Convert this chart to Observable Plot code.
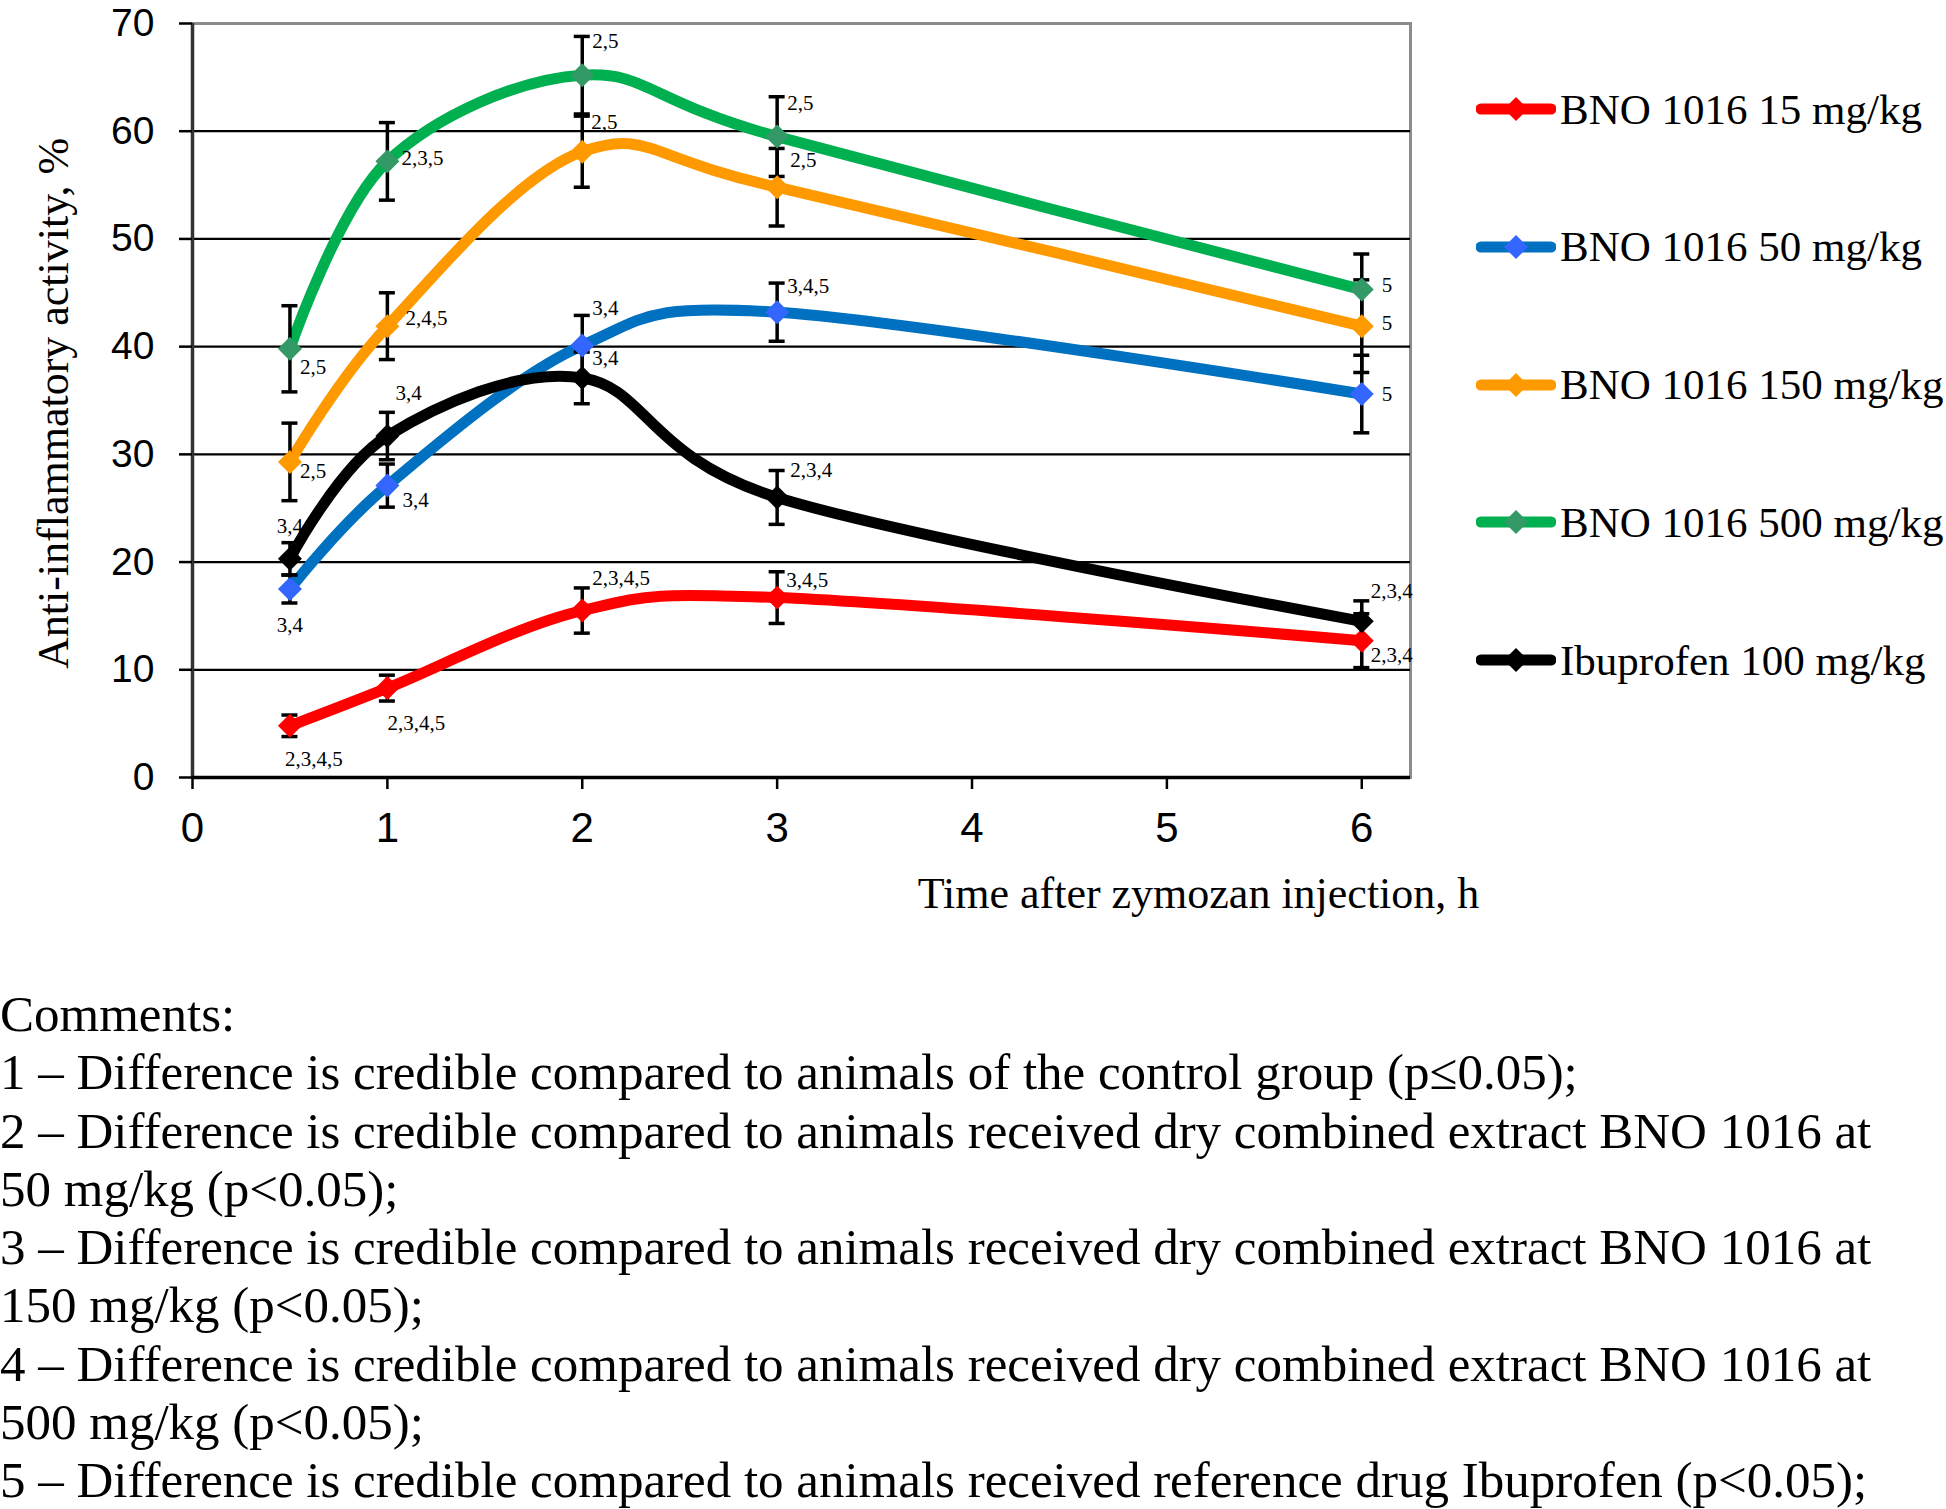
<!DOCTYPE html>
<html><head><meta charset="utf-8">
<script src="https://cdn.jsdelivr.net/npm/d3@7"></script>
<script src="https://cdn.jsdelivr.net/npm/@observablehq/plot@0.6"></script>
<style>
html,body{margin:0;padding:0;background:#fff;}
#wrap{position:relative;width:1946px;height:1509px;overflow:hidden;}
#chart{position:absolute;left:0;top:0;}
.leg{position:absolute;left:1476px;height:60px;display:flex;align-items:center;font-family:"Liberation Serif","Times New Roman",serif;font-size:43px;white-space:nowrap;color:#000;}
.leg svg{flex:none;margin-right:4px;}
#comments{position:absolute;left:0;top:985px;font-family:"Liberation Serif","Times New Roman",serif;font-size:51px;line-height:58.3px;white-space:nowrap;color:#000;}
</style></head><body>
<div id="wrap"><div id="chart"></div><div id="legend"></div><div id="comments"></div></div>
<script>
// ---- data ----
const times = [0.5, 1, 2, 3, 6];
const seriesNames = ["BNO 1016 15 mg/kg", "BNO 1016 50 mg/kg", "BNO 1016 150 mg/kg", "BNO 1016 500 mg/kg", "Ibuprofen 100 mg/kg"];
const mean15  = [4.8, 8.3, 15.5, 16.7, 12.7];
const err15   = [1.0, 1.2, 2.1, 2.4, 2.5];
const mean50  = [17.5, 27.1, 40.1, 43.2, 35.6];
const err50   = [1.3, 2.0, 2.8, 2.7, 3.6];
const mean150 = [29.3, 41.9, 58.1, 54.8, 41.9];
const err150  = [3.6, 3.1, 3.3, 3.6, 4.3];
const mean500 = [39.8, 57.2, 65.2, 59.5, 45.3];
const err500  = [4.0, 3.6, 3.6, 3.7, 3.3];
const meanIbu = [20.3, 31.7, 37.1, 26.0, 14.5];
const errIbu  = [1.5, 2.2, 2.4, 2.5, 1.9];
const sig15  = ["2,3,4,5", "2,3,4,5", "2,3,4,5", "3,4,5", "2,3,4"];
const sig50  = ["3,4", "3,4", "3,4", "3,4,5", "5"];
const sig150 = ["2,5", "2,4,5", "2,5", "2,5", "5"];
const sig500 = ["2,5", "2,3,5", "2,5", "2,5", "5"];
const sigIbu = ["3,4", "3,4", "3,4", "2,3,4", "2,3,4"];
const xTicks = [0, 1, 2, 3, 4, 5, 6];
const yTicks = [0, 10, 20, 30, 40, 50, 60, 70];
const yTitle = "Anti-inflammatory activity, %";
const xTitle = "Time after zymozan injection, h";
const comments = [
  "Comments:",
  "1 – Difference is credible compared to animals of the control group (p≤0.05);",
  "2 – Difference is credible compared to animals received dry combined extract BNO 1016 at",
  "50 mg/kg (p<0.05);",
  "3 – Difference is credible compared to animals received dry combined extract BNO 1016 at",
  "150 mg/kg (p<0.05);",
  "4 – Difference is credible compared to animals received dry combined extract BNO 1016 at",
  "500 mg/kg (p<0.05);",
  "5 – Difference is credible compared to animals received reference drug Ibuprofen (p<0.05);"
];

// ---- styles (kept apart from data) ----
const lineColors   = ["#FF0000", "#0070C0", "#FF9900", "#00B050", "#000000"];
const markerColors = ["#FF0000", "#3366FF", "#FF9900", "#339966", "#000000"];
// label placement: [reference, anchor, dx px, dy px]
const place15  = [["bottom","start",-5,23],["bottom","start",0,22],["top","start",10,-10],["top","start",9,8],["point","start",9,15]];
const place50  = [["bottom","middle",0,22],["point","start",15,15],["top","start",10,-7],["top","start",10,3],["point","start",20,0]];
const place150 = [["point","start",10,9],["point","start",18,-8],["top","start",9,6],["top","start",13,12],["point","start",20,-3]];
const place500 = [["point","start",10,18],["point","start",14,-3],["top","start",10,5],["top","start",10,7],["point","start",20,-4]];
const placeIbu = [["top","middle",0,-16],["top","start",8,-19],["top","start",10,6],["top","start",13,0],["top","start",9,-10]];

const means = [mean15, mean50, mean150, mean500, meanIbu];
const errs  = [err15, err50, err150, err500, errIbu];
const sigs  = [sig15, sig50, sig150, sig500, sigIbu];
const places = [place15, place50, place150, place500, placeIbu];

const rows = [];
seriesNames.forEach((name, s) => times.forEach((t, i) => rows.push({
  series: name, s, t, v: means[s][i], lo: means[s][i] - errs[s][i], hi: means[s][i] + errs[s][i],
  sig: sigs[s][i], place: places[s][i]
})));

const serif = "Liberation Serif, Times New Roman, serif";
const lines = seriesNames.map((n, s) => Plot.line(rows.filter(r => r.s === s), {
  x: "t", y: "v", stroke: lineColors[s], strokeWidth: 11, curve: "cardinal"
}));
const bars = [
  Plot.ruleX(rows, {x: "t", y1: "lo", y2: "hi", stroke: "#000", strokeWidth: 3.5}),
  Plot.ruleY(rows, {y: "hi", x1: "t", x2: "t", insetLeft: -8, insetRight: -8, stroke: "#000", strokeWidth: 3.5}),
  Plot.ruleY(rows, {y: "lo", x1: "t", x2: "t", insetLeft: -8, insetRight: -8, stroke: "#000", strokeWidth: 3.5})
];
const dots = seriesNames.map((n, s) => Plot.dot(rows.filter(r => r.s === s), {
  x: "t", y: "v", symbol: "diamond2", r: 10.8, fill: markerColors[s], stroke: "none"
}));
const labels = rows.map(r => Plot.text([r], {
  x: "t", y: r.place[0] === "top" ? "hi" : r.place[0] === "bottom" ? "lo" : "v",
  text: "sig", textAnchor: r.place[1], lineAnchor: "middle", dx: r.place[2], dy: r.place[3],
  fontSize: 21, fontFamily: serif, fill: "#000"
}));

const chart = Plot.plot({
  width: 1500, height: 940,
  marginLeft: 192, marginRight: 90, marginTop: 23, marginBottom: 163,
  style: {fontFamily: "Liberation Sans, Arial, sans-serif", fontSize: "39px", color: "#000", background: "#fff"},
  x: {domain: [0, 6.25]},
  y: {domain: [0, 70]},
  marks: [
    Plot.frame({stroke: "#8c8c8c", strokeWidth: 3}),
    Plot.ruleY(yTicks.filter(v => v > 0 && v < 70), {stroke: "#000", strokeWidth: 2.2}),
    Plot.ruleX([0], {stroke: "#333", strokeWidth: 3.5}),
    Plot.ruleY([0], {stroke: "#000", strokeWidth: 3.5}),
    Plot.axisY({ticks: yTicks, tickFormat: d => String(d), tickSize: 13, tickPadding: 25, strokeWidth: 2.5, label: null, fontSize: 39}),
    Plot.axisX({ticks: xTicks, tickFormat: d => String(d), tickSize: 12, tickPadding: 23, strokeWidth: 2.5, label: null, fontSize: 42}),
    ...lines, ...bars, ...dots, ...labels,
    Plot.text([yTitle], {text: d => d, frameAnchor: "left", rotate: -90, dx: -139, dy: 3, textAnchor: "middle", lineAnchor: "middle", fontSize: 44, fontFamily: serif}),
    Plot.text([xTitle], {text: d => d, frameAnchor: "bottom", dx: 397, dy: 116, textAnchor: "middle", lineAnchor: "middle", fontSize: 44, fontFamily: serif})
  ]
});
document.getElementById("chart").appendChild(chart);

// ---- legend ----
const legendRows = [109, 246.5, 384.5, 522, 660];
const legend = document.getElementById("legend");
seriesNames.forEach((name, s) => {
  const div = document.createElement("div");
  div.className = "leg";
  div.style.top = (legendRows[s] - 30) + "px";
  const sw = d3.create("svg").attr("width", 80).attr("height", 30);
  sw.append("line").attr("x1", 5).attr("x2", 75).attr("y1", 15).attr("y2", 15)
    .attr("stroke", lineColors[s]).attr("stroke-width", 11).attr("stroke-linecap", "round");
  sw.append("path").attr("d", "M40,3L52,15L40,27L28,15Z").attr("fill", markerColors[s]);
  div.appendChild(sw.node());
  const sp = document.createElement("span");
  sp.textContent = name;
  div.appendChild(sp);
  legend.appendChild(div);
});

// ---- comments ----
const cm = document.getElementById("comments");
comments.forEach(t => { const d = document.createElement("div"); d.textContent = t; cm.appendChild(d); });
</script>
</body></html>
